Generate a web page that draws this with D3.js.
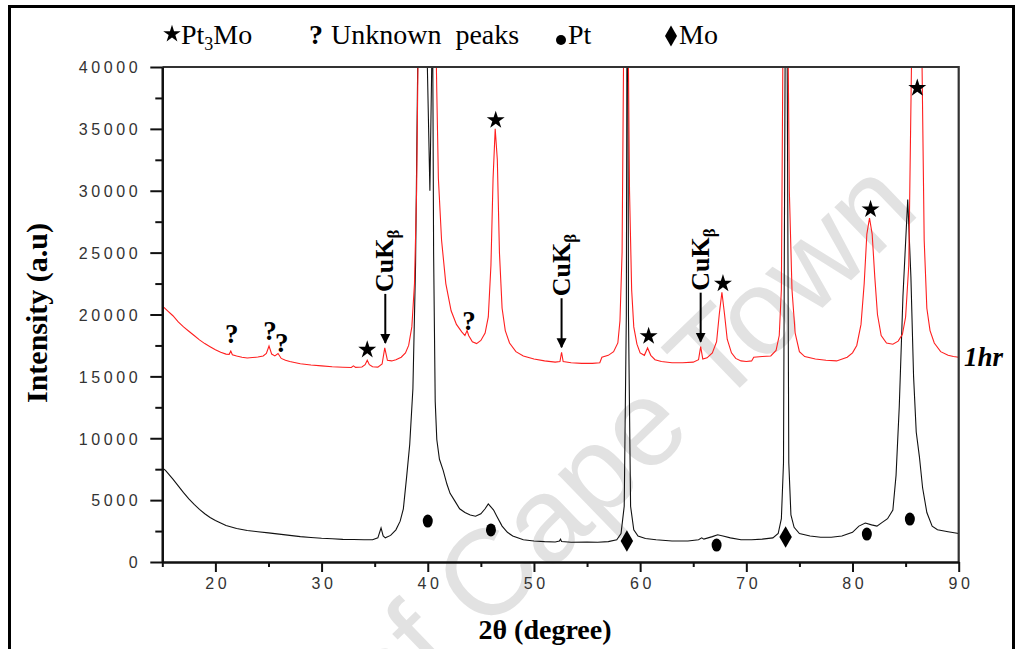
<!DOCTYPE html>
<html><head><meta charset="utf-8">
<script src="https://cdn.jsdelivr.net/npm/d3@7"></script>
<style>body{margin:0;background:#fff}svg{display:block}</style>
</head><body>
<svg id="c" width="1023" height="649"></svg>
<script>
// ---------- data ----------
const xMajorTicks = [20, 30, 40, 50, 60, 70, 80, 90];
const xMinorTicks = [15, 25, 35, 45, 55, 65, 75, 85];
const yMajorTicks = [0, 5000, 10000, 15000, 20000, 25000, 30000, 35000, 40000];
const yMinorTicks = [2500, 7500, 12500, 17500, 22500, 27500, 32500, 37500];

// 1hr (red) pattern: [2θ, intensity]
const series1hr = [
 [15.0,20700],[15.5,20300],[16.0,19900],[16.5,19400],[17.0,19000],[17.5,18650],[18.0,18300],[18.5,17950],
 [19.0,17650],[19.5,17400],[20.0,17150],[20.5,16950],[21.0,16800],[21.3,16780],[21.45,17050],[21.6,16750],
 [22.0,16650],[22.5,16550],[23.0,16480],[23.5,16520],[24.0,16560],[24.5,16650],[24.8,16850],[25.05,17450],
 [25.3,16800],[25.6,16650],[25.9,16850],[26.2,16450],[26.6,16300],[27.0,16200],[28.0,16020],[29.0,15920],
 [30.0,15850],[31.0,15780],[32.0,15740],[32.8,15720],[33.0,15850],[33.2,15730],[33.8,15760],[34.1,15950],
 [34.3,16300],[34.5,15950],[34.8,15780],[35.3,15750],[35.7,16000],[35.95,17300],[36.2,16300],[36.6,16250],
 [37.0,16350],[37.5,16550],[37.9,16900],[38.2,17500],[38.5,19000],[38.75,22500],[38.95,30000],[39.1,42000],
 [39.4,60000],[39.7,70000],[40.0,70000],[40.4,60000],[40.7,46000],[40.85,38000],[41.0,31000],[41.3,26000],
 [41.7,22500],[42.2,20300],[42.7,19200],[43.2,18600],[43.5,18300],[43.7,18700],[43.85,18300],[44.2,17800],
 [44.6,17650],[45.0,17900],[45.4,18500],[45.7,19800],[45.95,24000],[46.15,31000],[46.35,35000],[46.55,32500],
 [46.75,25000],[47.0,20500],[47.3,18700],[47.7,17700],[48.3,17000],[49.0,16650],[50.0,16400],[51.0,16250],
 [52.0,16150],[52.45,16200],[52.6,16950],[52.75,16200],[53.5,16100],[54.5,16050],[55.5,16050],[56.2,16100],
 [56.4,16550],[57.0,16700],[57.5,17000],[57.9,17700],[58.1,19500],[58.3,25000],[58.45,42000],[58.65,60000],
 [58.85,45000],[59.0,30000],[59.2,22000],[59.4,19000],[59.7,17600],[60.0,16900],[60.4,16700],[60.7,17300],
 [61.0,16700],[61.4,16350],[62.0,16200],[63.0,16100],[64.0,16100],[65.0,16150],[65.5,16350],[65.7,17400],
 [65.9,16400],[66.3,16500],[66.8,16900],[67.2,17800],[67.45,20000],[67.7,21800],[67.95,20000],[68.2,18000],
 [68.6,16900],[69.0,16450],[69.5,16250],[70.0,16200],[70.5,16250],[70.7,16550],[71.5,16600],[72.3,16650],
 [72.8,17100],[73.1,18300],[73.3,22000],[73.45,42000],[73.7,70000],[73.9,45000],[74.05,30000],[74.3,22000],
 [74.6,18500],[75.0,17000],[75.5,16600],[76.5,16400],[77.5,16300],[78.5,16250],[79.5,16550],[80.0,16900],
 [80.4,17500],[80.8,19200],[81.1,22500],[81.35,26500],[81.6,27800],[81.85,26500],[82.1,23000],[82.35,20000],
 [82.7,18300],[83.2,17700],[83.8,17600],[84.3,17850],[84.7,18400],[85.0,19800],[85.3,24000],[85.55,40000],
 [85.8,65000],[86.1,70000],[86.4,55000],[86.55,40000],[86.75,26000],[87.0,20500],[87.3,18700],[87.7,17700],
 [88.3,17000],[89.0,16700],[89.5,16600],[90.0,16550]
];

// as-prepared (black) pattern: [2θ, intensity]
const series0hr = [
 [15.0,7600],[15.3,7400],[15.6,7100],[16.0,6700],[16.5,6150],[17.0,5600],[17.5,5100],[18.0,4650],
 [18.5,4250],[19.0,3900],[19.5,3600],[20.0,3350],[20.5,3150],[21.0,2950],[22.0,2700],[23.0,2550],
 [24.0,2450],[25.0,2350],[26.0,2250],[27.0,2150],[28.0,2050],[29.0,1980],[30.0,1920],[31.0,1880],
 [32.0,1830],[33.0,1820],[34.0,1800],[34.8,1800],[35.3,1950],[35.6,2750],[35.8,2100],[36.0,1950],
 [36.5,2150],[37.0,2600],[37.4,3300],[37.7,4300],[38.0,6800],[38.3,9500],[38.6,14000],[38.85,24000],
 [39.05,40000],[39.4,60000],[39.7,55000],[39.95,40500],[40.2,30000],[40.38,40500],[40.45,45000],[40.55,25000],
 [40.7,13000],[40.85,9900],[41.1,8300],[41.45,7400],[41.8,6300],[42.1,5550],[42.5,5000],[43.0,4300],
 [43.5,4000],[44.0,3800],[44.5,3700],[45.0,3900],[45.4,4300],[45.7,4700],[45.9,4500],[46.2,4200],
 [46.5,3700],[47.0,2900],[47.5,2400],[48.0,2100],[49.0,1800],[50.0,1700],[51.0,1650],[52.0,1620],
 [52.4,1700],[52.5,1850],[52.6,1650],[53.5,1600],[55.0,1620],[56.0,1600],[57.0,1650],[57.8,1800],
 [58.2,2300],[58.5,4500],[58.7,20000],[58.8,60000],[58.9,20000],[59.1,4500],[59.4,2600],[59.8,2100],
 [60.5,1900],[61.5,1800],[63.0,1700],[64.5,1700],[65.5,1800],[65.8,1950],[66.0,1850],[66.8,2050],
 [67.3,2200],[67.8,2100],[68.5,1950],[69.5,1800],[70.5,1800],[71.5,1850],[72.5,1950],[73.0,2300],
 [73.3,3500],[73.5,8000],[73.65,40000],[73.75,60000],[73.85,40000],[74.0,8000],[74.2,3800],[74.5,2800],
 [75.0,2300],[76.0,2100],[77.0,2000],[78.0,2000],[79.0,2100],[80.0,2400],[80.6,2900],[81.2,3150],
 [81.8,3000],[82.3,2900],[82.8,3200],[83.3,3500],[83.8,4200],[84.1,7000],[84.4,12500],[84.75,21500],
 [85.2,29300],[85.5,23000],[85.75,15000],[86.0,10500],[86.3,8500],[86.6,6000],[87.0,4000],[87.5,2900],
 [88.0,2600],[89.0,2450],[90.0,2300]
];

// peak markers: [2θ, intensity of the marker centre]
const starMarks = [[34.3,17150],[46.4,35700],[60.8,18250],[67.8,22500],[81.7,28500],[86.1,38300]];
const unknownMarks = [[21.53,18480],[25.14,18750],[26.24,17800],[43.88,19550]];
const ptMarks = [[40.0,3310],[45.95,2590],[67.2,1370],[81.35,2260],[85.4,3470]];
const moMarks = [[58.75,1700],[73.7,2020]];
const cuKbetaPeaks = [[36.0,17300],[52.6,16950],[65.7,17400]];
const seriesLabel = "1hr";

// ---------- drawing ----------
const svg = d3.select('#c');
const L = 162.3, R = 958.7, T = 67, B = 562;
const x = d3.scaleLinear().domain([15, 90]).range([L, R]);
const y = d3.scaleLinear().domain([0, 40000]).range([B, T]);
const serif = "'Liberation Serif','Times New Roman',serif";
const sans = "'Liberation Sans',Arial,sans-serif";

// outer frame
svg.append('path').attr('d', 'M9.5,660 V6.5 H1013.5 V660')
  .attr('fill', 'none').attr('stroke', '#000').attr('stroke-width', 3);

// watermark
svg.append('text').attr('transform', 'translate(922,212) rotate(-44)')
  .attr('text-anchor', 'end').attr('font-family', sans).attr('font-size', 122)
  .attr('fill', '#e2e2e2').text('University of Cape Town');

svg.append('clipPath').attr('id', 'clip').append('rect')
  .attr('x', L).attr('y', T).attr('width', R - L).attr('height', B - T);

const line = d3.line().x(d => x(d[0])).y(d => y(d[1]));
svg.append('path').datum(series0hr).attr('d', line).attr('clip-path', 'url(#clip)')
  .attr('fill', 'none').attr('stroke', '#111').attr('stroke-width', 1.1);
svg.append('path').datum(series1hr).attr('d', line).attr('clip-path', 'url(#clip)')
  .attr('fill', 'none').attr('stroke', '#ff1f1f').attr('stroke-width', 1.1);

// frame top/right
svg.append('path').attr('d', `M${L},${T} H${R} V${B}`).attr('fill', 'none')
  .attr('stroke', '#333').attr('stroke-width', 2.2);

// axes
function styleAxis(g) {
  g.select('.domain').attr('stroke', '#111').attr('stroke-width', 2.2);
  g.selectAll('.tick line').attr('stroke', '#111').attr('stroke-width', 2);
  g.selectAll('.tick text').attr('font-family', sans).attr('font-size', 16)
    .attr('fill', '#333').attr('letter-spacing', '3.6px');
}
const gyMinor = svg.append('g').attr('transform', `translate(${L},0)`)
  .call(d3.axisLeft(y).tickValues(yMinorTicks).tickSize(7).tickSizeOuter(0).tickFormat(''));
styleAxis(gyMinor);
const gy = svg.append('g').attr('transform', `translate(${L},0)`)
  .call(d3.axisLeft(y).tickValues(yMajorTicks).tickSize(12).tickSizeOuter(0).tickPadding(9).tickFormat(d3.format('d')));
styleAxis(gy);
gy.selectAll('.tick text').attr('dy', '0.36em');
const gxMinor = svg.append('g').attr('transform', `translate(0,${B})`)
  .call(d3.axisBottom(x).tickValues(xMinorTicks).tickSize(5).tickSizeOuter(0).tickFormat(''));
styleAxis(gxMinor);
const gx = svg.append('g').attr('transform', `translate(0,${B})`)
  .call(d3.axisBottom(x).tickValues(xMajorTicks).tickSize(10).tickSizeOuter(0).tickPadding(6).tickFormat(d3.format('d')));
styleAxis(gx);
gx.selectAll('.tick text').attr('dx', '1.8px');

// axis titles
svg.append('text').attr('transform', `translate(47,313) rotate(-90)`).attr('text-anchor', 'middle')
  .attr('font-family', serif).attr('font-weight', 'bold').attr('font-size', 30).text('Intensity (a.u)');
svg.append('text').attr('x', 545).attr('y', 639).attr('text-anchor', 'middle')
  .attr('font-family', serif).attr('font-weight', 'bold').attr('font-size', 28).text('2θ (degree)');

// markers
const star = d3.symbol(d3.symbolStar).size(100);
svg.selectAll('.star').data(starMarks).join('path')
  .attr('transform', d => `translate(${x(d[0])},${y(d[1])})`).attr('d', star).attr('fill', '#000');
svg.selectAll('.unk').data(unknownMarks).join('text')
  .attr('x', d => x(d[0])).attr('y', d => y(d[1]) + 10).attr('text-anchor', 'middle')
  .attr('font-family', serif).attr('font-weight', 'bold').attr('font-size', 27).text('?');
svg.selectAll('.pt').data(ptMarks).join('ellipse')
  .attr('cx', d => x(d[0])).attr('cy', d => y(d[1])).attr('rx', 5).attr('ry', 6.5).attr('fill', '#000');
const diamond = d3.symbol(d3.symbolDiamond).size(135);
svg.selectAll('.mo').data(moMarks).join('path')
  .attr('transform', d => `translate(${x(d[0])},${y(d[1])})`).attr('d', diamond).attr('fill', '#000');

// CuKβ arrows
svg.append('defs').append('marker').attr('id', 'ah').attr('viewBox', '0 0 10 10')
  .attr('refX', 9).attr('refY', 5).attr('markerWidth', 5).attr('markerHeight', 6)
  .attr('markerUnits', 'strokeWidth').attr('orient', 'auto')
  .append('path').attr('d', 'M0,0 L10,5 L0,10 Z').attr('fill', '#000');
cuKbetaPeaks.forEach(d => {
  const px = x(d[0]), py = y(d[1]);
  svg.append('line').attr('x1', px).attr('x2', px).attr('y1', py - 54).attr('y2', py - 5)
    .attr('stroke', '#000').attr('stroke-width', 2).attr('marker-end', 'url(#ah)');
  const t = svg.append('text').attr('transform', `translate(${px + 8},${py - 56}) rotate(-90)`)
    .attr('font-family', serif).attr('font-weight', 'bold').attr('font-size', 26);
  t.append('tspan').text('CuK');
  t.append('tspan').attr('dy', 6).attr('font-size', 17).text('β');
});

// series label
svg.append('text').attr('x', 964).attr('y', 366).attr('font-family', serif).attr('font-weight', 'bold')
  .attr('font-style', 'italic').attr('font-size', 27).text(seriesLabel);

// legend
const lg = svg.append('g').attr('font-family', serif).attr('font-size', 28);
lg.append('path').attr('transform', 'translate(172,34)').attr('d', d3.symbol(d3.symbolStar).size(95)).attr('fill', '#000');
const t1 = lg.append('text').attr('x', 181).attr('y', 44);
t1.append('tspan').text('Pt');
t1.append('tspan').attr('dy', 6).attr('font-size', 18).text('3');
t1.append('tspan').attr('dy', -6).text('Mo');
lg.append('text').attr('x', 309).attr('y', 44).attr('font-weight', 'bold').text('?');
lg.append('text').attr('x', 331).attr('y', 44).attr('xml:space', 'preserve').text('Unknown  peaks');
lg.append('circle').attr('cx', 561).attr('cy', 40).attr('r', 5).attr('fill', '#000');
lg.append('text').attr('x', 568).attr('y', 44).text('Pt');
lg.append('path').attr('transform', 'translate(671,36)').attr('d', d3.symbol(d3.symbolDiamond).size(125)).attr('fill', '#000');
lg.append('text').attr('x', 679).attr('y', 44).text('Mo');
</script>
</body></html>
